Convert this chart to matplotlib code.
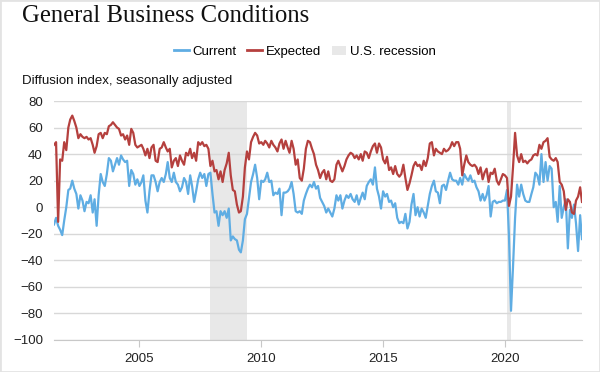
import pandas as pd
import matplotlib
matplotlib.use("Agg")
import matplotlib.pyplot as plt
import matplotlib.dates as mdates
from matplotlib.lines import Line2D
from matplotlib.patches import Patch, Rectangle

# Monatswerte Juli 2001 bis Maerz 2023
current = [
    -13, -8, -14, -17, -21, -10,                      # 2001 (ab Juli)
    0, 13, 14, 20, 14, 10, -1, 9, 5, -3, 4, 3,        # 2002
    9, -4, 6, -14, 9, 25, 19, 16, 25, 37, 35, 27,     # 2003
    32, 37, 32, 39, 36, 34, 35, 16, 28, 25, 17, 21,   # 2004
    16, 19, 24, 5, -4, 12, 24, 24, 19, 12, 19, 22,    # 2005
    19, 25, 34, 22, 19, 26, 19, 17, 12, 15, 22, 19,   # 2006
    10, 24, 16, 4, 12, 21, 26, 22, 25, 16, 25, 26,    # 2007
    10, -4, -3, -14, -3, -6, -3, -8, -1, -25, -22, -24,  # 2008
    -25, -32, -34, -25, -9, -5, 7, 19, 25, 32, 22, 6,    # 2009
    20, 19, 21, 26, 19, 20, 9, 11, 10, 14, -6, 11,    # 2010
    11, 12, 14, 19, 10, -3, -4, -3, -5, 5, 10, 14,    # 2011
    17, 15, 19, 14, 16, 7, 4, 1, -4, -1, -4, -7,      # 2012
    -1, 9, 5, 9, -1, 5, 9, 7, 10, 6, 4, 9,            # 2013
    2, 7, 11, 6, 16, 19, 21, 17, 30, 14, 8, -1,       # 2014
    12, 8, 10, 4, 5, 0, 3, -8, -12, -11, -12, -5,     # 2015
    -16, -11, 2, 10, -6, 0, -7, -1, -4, -8, 1, 10,    # 2016
    16, 20, 12, 11, 3, 16, 17, 13, 20, 26, 21, 20,    # 2017
    20, 17, 22, 17, 25, 22, 20, 24, 19, 20, 15, 12,   # 2018
    5, 10, 5, 9, 16, -7, 4, 5, 3, 4, 4, 5,            # 2019
    5, 13, -21, -78, -45, -8, 17, 8, 17, 10, 5, 4,    # 2020
    4, 10, 15, 26, 24, 17, 40, 19, 34, 20, 31, 29,    # 2021
    0, 4, -11, 16, -8, 0, 6, -31, -2, -8, 2, -12,     # 2022
    -33, -6, -24,                                     # 2023
]

expected = [
    47, 49, -11, 36, 35, 49,                          # 2001 (ab Juli)
    43, 60, 66, 69, 65, 60, 52, 55, 53, 52, 53, 51,   # 2002
    52, 47, 41, 46, 55, 56, 52, 56, 55, 61, 62, 64,   # 2003
    62, 60, 59, 54, 55, 51, 54, 47, 59, 56, 47, 45,   # 2004
    46, 47, 44, 39, 44, 37, 45, 47, 35, 34, 44, 45,   # 2005
    49, 45, 42, 44, 30, 35, 37, 31, 39, 35, 32, 41,   # 2006
    39, 44, 37, 41, 35, 49, 47, 49, 46, 47, 44, 31,   # 2007
    35, 27, 28, 21, 27, 19, 28, 33, 41, 24, 13, 12,   # 2008
    2, -4, -3, 8, 30, 42, 36, 49, 53, 56, 54, 48,     # 2009
    49, 47, 50, 48, 45, 50, 47, 45, 42, 48, 51, 44,   # 2010
    50, 45, 41, 50, 44, 32, 36, 22, 20, 29, 44, 50,   # 2011
    49, 44, 40, 32, 28, 22, 26, 28, 21, 27, 20, 19,   # 2012
    21, 32, 35, 31, 27, 31, 36, 39, 41, 40, 37, 39,   # 2013
    36, 40, 35, 42, 41, 37, 42, 46, 48, 41, 48, 45,   # 2014
    36, 33, 38, 28, 30, 25, 31, 25, 23, 25, 32, 22,   # 2015
    13, 18, 24, 31, 34, 31, 32, 28, 35, 31, 37, 48,   # 2016
    49, 39, 44, 42, 41, 40, 44, 42, 43, 45, 49, 46,   # 2017
    49, 49, 44, 24, 32, 39, 34, 32, 31, 32, 30, 25,   # 2018
    30, 21, 26, 29, 19, 26, 25, 29, 20, 17, 21, 25,   # 2019
    24, 22, 1, 8, 30, 56, 39, 34, 40, 34, 35, 33,     # 2020
    35, 36, 39, 40, 39, 47, 44, 49, 50, 52, 38, 36,   # 2021
    35, 37, 34, 19, 17, 12, -2, 6, 4, -4, -5, 5,      # 2022
    8, 15, 4,                                         # 2023
]

recessions = [("2007-12-01", "2009-06-01"), ("2020-02-01", "2020-04-01")]
year_ticks = ["2005", "2010", "2015", "2020"]

months = pd.date_range("2001-07-01", periods=len(current), freq="MS")

blue = "#5fade3"
red = "#b5403e"
shade = "#e8e8e8"
sans = ["Liberation Sans", "DejaVu Sans"]

fig = plt.figure(figsize=(6, 3.72), dpi=100)
ax = fig.add_axes([54 / 600, 1 - 340 / 372, (582 - 54) / 600, (340 - 101) / 372])

for start, end in recessions:
    ax.axvspan(pd.Timestamp(start), pd.Timestamp(end), color=shade, lw=0, zorder=0)

ax.plot(months, current, color=blue, lw=1.6, zorder=3)
ax.plot(months, expected, color=red, lw=1.6, zorder=3)

ax.set_xlim(months[0], months[-1])
ax.set_ylim(-100, 80)
ax.set_yticks(range(-100, 81, 20))
ax.yaxis.grid(True, color="#d8d8d8", lw=1, zorder=1)
ax.set_axisbelow(True)
ax.set_xticks([pd.Timestamp(y + "-01-01") for y in year_ticks])
ax.xaxis.set_major_formatter(mdates.DateFormatter("%Y"))

for s in ["top", "right", "left"]:
    ax.spines[s].set_visible(False)
ax.spines["bottom"].set_color("#c8c8c8")
ax.tick_params(axis="y", length=0, pad=8, labelsize=9.5, labelcolor="#222222")
ax.tick_params(axis="x", length=5, color="#c8c8c8", pad=4, labelsize=9.5, labelcolor="#222222")
for lab in ax.get_xticklabels() + ax.get_yticklabels():
    lab.set_family(sans)

fig.text(22 / 600, 1 - 16 / 372, "General Business Conditions", family="Liberation Serif",
         fontsize=17.8, va="center", ha="left", color="#111111")
fig.text(22 / 600, 1 - 81 / 372, "Diffusion index, seasonally adjusted", family=sans,
         fontsize=9.5, va="center", ha="left", color="#111111")

handles = [Line2D([], [], color=blue, lw=2), Line2D([], [], color=red, lw=2),
           Patch(facecolor=shade, edgecolor="none")]
fig.legend(handles, ["Current", "Expected", "U.S. recession"], loc="center",
           bbox_to_anchor=(305 / 600, 1 - 52 / 372), ncol=3, frameon=False,
           handlelength=1.1, handletextpad=0.3, columnspacing=0.8,
           prop={"family": sans, "size": 9.5})

# feiner Rahmen ums Bild
fig.patches.append(Rectangle((0, 0), 1, 1, transform=fig.transFigure, fill=False,
                             edgecolor="#e3e3e3", lw=2))

fig.savefig("out.png", dpi=100)
